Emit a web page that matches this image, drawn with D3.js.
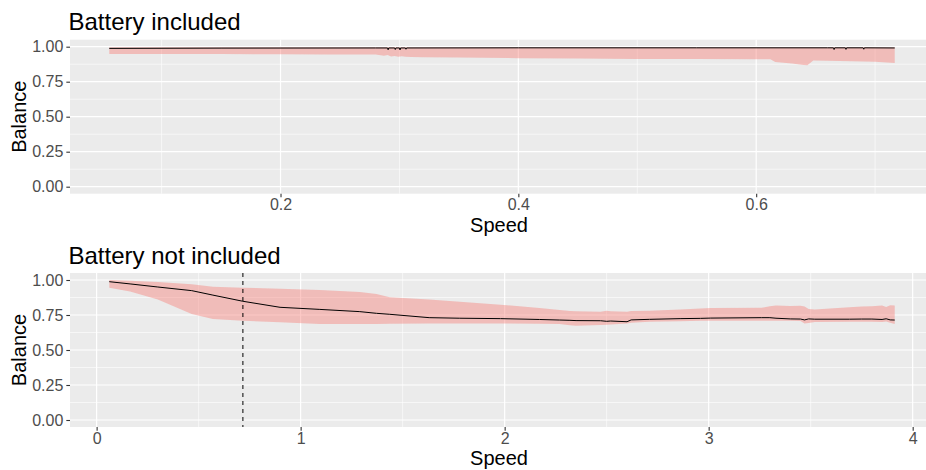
<!DOCTYPE html>
<html>
<head>
<meta charset="utf-8">
<script src="https://cdn.jsdelivr.net/npm/d3@7"></script>
<style>
  html, body { margin: 0; padding: 0; background: #ffffff; overflow: hidden; }
  svg { display: block; font-family: "Liberation Sans", Arial, Helvetica, sans-serif; }
</style>
</head>
<body>
<svg id="chart" width="926" height="470"></svg>
<script>
// ---------- Data ----------
const panelTitles = ["Battery included", "Battery not included"];
const xLabel = "Speed";
const yLabel = "Balance";

// Panel 1: Battery included — mean line
const speedTop = [0.056, 0.15, 0.28, 0.290, 0.2905, 0.291, 0.296, 0.2965, 0.297, 0.300, 0.3005, 0.301, 0.305, 0.3055, 0.306, 0.40, 0.55, 0.66, 0.665, 0.6655, 0.666, 0.675, 0.6755, 0.676, 0.69, 0.6905, 0.691, 0.7165];
const meanTop  = [0.988, 0.990, 0.991, 0.991, 0.978, 0.991, 0.991, 0.980, 0.991, 0.991, 0.977, 0.991, 0.991, 0.982, 0.991, 0.992, 0.992, 0.992, 0.992, 0.980, 0.992, 0.992, 0.981, 0.992, 0.992, 0.982, 0.992, 0.991];
// Panel 1: band
const speedTopBand = [0.056, 0.10, 0.15, 0.20, 0.24, 0.28, 0.287, 0.290, 0.293, 0.296, 0.299, 0.302, 0.305, 0.31, 0.32, 0.35, 0.40, 0.45, 0.50, 0.55, 0.60, 0.612, 0.616, 0.63, 0.64, 0.643, 0.648, 0.66, 0.68, 0.70, 0.7165];
const loTop = [0.948, 0.948, 0.947, 0.946, 0.945, 0.944, 0.936, 0.940, 0.930, 0.934, 0.928, 0.932, 0.929, 0.927, 0.925, 0.922, 0.918, 0.915, 0.913, 0.912, 0.911, 0.910, 0.890, 0.880, 0.869, 0.867, 0.902, 0.899, 0.896, 0.892, 0.884];
const hiTop = [0.996, 0.996, 0.996, 0.996, 0.996, 0.996, 0.996, 0.996, 0.996, 0.996, 0.996, 0.996, 0.996, 0.996, 0.996, 0.996, 0.996, 0.996, 0.996, 0.996, 0.996, 0.996, 0.996, 0.996, 0.996, 0.996, 0.996, 0.996, 0.996, 0.996, 0.996];

// Panel 2: Battery not included
const speedBot = [0.062, 0.164, 0.30, 0.466, 0.57, 0.717, 0.899, 1.094, 1.29, 1.372, 1.437, 1.63, 1.78, 1.98, 2.17, 2.27, 2.32, 2.35, 2.47, 2.50, 2.52, 2.60, 2.62, 2.71, 2.86, 2.96, 3.01, 3.26, 3.30, 3.33, 3.40, 3.45, 3.47, 3.49, 3.52, 3.69, 3.75, 3.80, 3.85, 3.87, 3.89, 3.912];
const meanBot  = [0.988, 0.972, 0.950, 0.924, 0.892, 0.848, 0.805, 0.790, 0.774, 0.762, 0.755, 0.731, 0.727, 0.724, 0.718, 0.714, 0.712, 0.710, 0.709, 0.705, 0.707, 0.702, 0.715, 0.719, 0.724, 0.726, 0.728, 0.731, 0.731, 0.727, 0.722, 0.721, 0.715, 0.722, 0.720, 0.720, 0.721, 0.721, 0.718, 0.723, 0.715, 0.714];
const loBot    = [0.945, 0.917, 0.860, 0.757, 0.721, 0.709, 0.698, 0.686, 0.686, 0.686, 0.687, 0.690, 0.690, 0.690, 0.688, 0.686, 0.676, 0.674, 0.679, 0.681, 0.683, 0.690, 0.694, 0.702, 0.706, 0.709, 0.709, 0.709, 0.709, 0.709, 0.709, 0.708, 0.690, 0.692, 0.700, 0.702, 0.702, 0.702, 0.700, 0.703, 0.695, 0.686];
const hiBot    = [1.000, 0.995, 0.985, 0.969, 0.952, 0.945, 0.937, 0.929, 0.915, 0.900, 0.876, 0.860, 0.845, 0.824, 0.800, 0.785, 0.779, 0.776, 0.774, 0.780, 0.776, 0.774, 0.778, 0.781, 0.790, 0.797, 0.800, 0.802, 0.812, 0.818, 0.815, 0.816, 0.810, 0.792, 0.790, 0.805, 0.810, 0.812, 0.818, 0.808, 0.820, 0.817];

const vlineBot = 0.717;

const yTicks = [0, 0.25, 0.5, 0.75, 1];
const yTickLabels = ["0.00", "0.25", "0.50", "0.75", "1.00"];
const xTicksTop = [0.2, 0.4, 0.6];
const xTickLabelsTop = ["0.2", "0.4", "0.6"];
const xTicksBot = [0, 1, 2, 3, 4];
const xTickLabelsBot = ["0", "1", "2", "3", "4"];

// ---------- Drawing ----------
const svg = d3.select("#chart");
const panelLeft = 70, panelRight = 934;
const FONT = '"Liberation Sans", Arial, Helvetica, sans-serif';

function expandDomain(ext) {
  const pad = (ext[1] - ext[0]) * 0.05;
  return [ext[0] - pad, ext[1] + pad];
}

function drawPanel(cfg) {
  const g = svg.append("g");
  const x = d3.scaleLinear().domain(expandDomain(d3.extent(cfg.lineX.concat(cfg.bandX)))).range([panelLeft, panelRight]);
  const y = d3.scaleLinear().domain([-0.05, 1.05]).range([cfg.bottom, cfg.top]);

  g.append("rect").attr("x", panelLeft).attr("y", cfg.top)
    .attr("width", panelRight - panelLeft).attr("height", cfg.bottom - cfg.top)
    .attr("fill", "#EBEBEB");

  const yMinor = [0.125, 0.375, 0.625, 0.875];
  const xMaj = cfg.xTicks;
  const step = xMaj[1] - xMaj[0];
  const dom = x.domain();
  const xMinor = [];
  for (let v = xMaj[0] - step / 2; v <= dom[1]; v += step) {
    if (v >= dom[0]) xMinor.push(+v.toFixed(6));
  }
  g.selectAll(".ymin").data(yMinor).enter().append("line")
    .attr("x1", panelLeft).attr("x2", panelRight)
    .attr("y1", d => y(d)).attr("y2", d => y(d))
    .attr("stroke", "#ffffff").attr("stroke-width", 0.6);
  g.selectAll(".xmin").data(xMinor).enter().append("line")
    .attr("y1", cfg.top).attr("y2", cfg.bottom)
    .attr("x1", d => x(d)).attr("x2", d => x(d))
    .attr("stroke", "#ffffff").attr("stroke-width", 0.6);
  g.selectAll(".ymaj").data(yTicks).enter().append("line")
    .attr("x1", panelLeft).attr("x2", panelRight)
    .attr("y1", d => y(d)).attr("y2", d => y(d))
    .attr("stroke", "#ffffff").attr("stroke-width", 1.2);
  g.selectAll(".xmaj").data(xMaj).enter().append("line")
    .attr("y1", cfg.top).attr("y2", cfg.bottom)
    .attr("x1", d => x(d)).attr("x2", d => x(d))
    .attr("stroke", "#ffffff").attr("stroke-width", 1.2);

  const band = cfg.bandX.map((s, i) => ({ s, lo: cfg.lo[i], hi: cfg.hi[i] }));
  const line = cfg.lineX.map((s, i) => ({ s, m: cfg.mean[i] }));

  g.append("path").datum(band)
    .attr("d", d3.area().x(d => x(d.s)).y0(d => y(d.lo)).y1(d => y(d.hi)))
    .attr("fill", "#F8766D").attr("fill-opacity", 0.4);

  g.append("path").datum(line)
    .attr("d", d3.line().x(d => x(d.s)).y(d => y(d.m)))
    .attr("fill", "none").attr("stroke", "#000000").attr("stroke-width", 1.0);

  if (cfg.vline !== undefined) {
    g.append("line").attr("x1", x(cfg.vline)).attr("x2", x(cfg.vline))
      .attr("y1", cfg.top).attr("y2", cfg.bottom)
      .attr("stroke", "#000000").attr("stroke-width", 1.0)
      .attr("stroke-dasharray", "4,4");
  }

  const yAxis = d3.axisLeft(y).tickValues(yTicks).tickFormat((d, i) => yTickLabels[i])
    .tickSize(3.67).tickPadding(3);
  const ya = g.append("g").attr("transform", `translate(${panelLeft},0)`).call(yAxis);
  ya.select(".domain").remove();
  ya.selectAll(".tick line").attr("stroke", "#333333").attr("stroke-width", 1.1);
  ya.selectAll(".tick text").attr("fill", "#4D4D4D").style("font-size", "16px").style("font-family", FONT);

  const xAxis = d3.axisBottom(x).tickValues(cfg.xTicks).tickFormat((d, i) => cfg.xTickLabels[i])
    .tickSize(3.67).tickPadding(1.6);
  const xa = g.append("g").attr("transform", `translate(0,${cfg.bottom})`).call(xAxis);
  xa.select(".domain").remove();
  xa.selectAll(".tick line").attr("stroke", "#333333").attr("stroke-width", 1.1);
  xa.selectAll(".tick text").attr("fill", "#4D4D4D").style("font-size", "16px").style("font-family", FONT);

  g.append("text").attr("x", 68.5).attr("y", cfg.titleY)
    .attr("fill", "#000000").style("font-size", "24px").style("font-family", FONT).text(cfg.title);
  g.append("text").attr("x", (panelLeft + panelRight) / 2 - 3).attr("y", cfg.xLabelY)
    .attr("text-anchor", "middle").attr("fill", "#000000").style("font-size", "20px").style("font-family", FONT).text(xLabel);
  g.append("text").attr("transform", `translate(26,${(cfg.top + cfg.bottom) / 2}) rotate(-90)`)
    .attr("text-anchor", "middle").attr("fill", "#000000").style("font-size", "20px").style("font-family", FONT).text(yLabel);
}

drawPanel({
  lineX: speedTop, mean: meanTop, bandX: speedTopBand, lo: loTop, hi: hiTop,
  top: 39.7, bottom: 193.7, title: panelTitles[0], titleY: 29.5, xLabelY: 232,
  xTicks: xTicksTop, xTickLabels: xTickLabelsTop
});
drawPanel({
  lineX: speedBot, mean: meanBot, bandX: speedBot, lo: loBot, hi: hiBot,
  top: 273, bottom: 427, title: panelTitles[1], titleY: 263.5, xLabelY: 465,
  xTicks: xTicksBot, xTickLabels: xTickLabelsBot, vline: vlineBot
});
</script>
</body>
</html>
